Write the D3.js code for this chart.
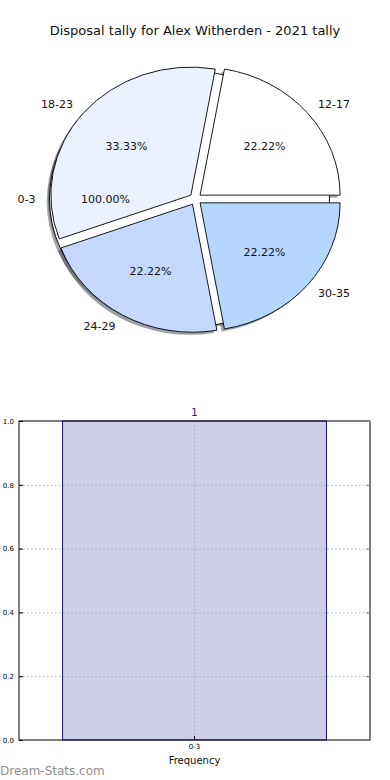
<!DOCTYPE html>
<html>
<head>
<meta charset="utf-8">
<script src="https://cdn.jsdelivr.net/npm/d3@7"></script>
<style>
  body { margin: 0; background: #fff; }
  svg { display: block; font-family: "DejaVu Sans", sans-serif; }
</style>
</head>
<body>
<div id="chart"></div>
<script>
// pie data
const ageGroups = ["12-17", "18-23", "24-29", "30-35"];
const groupCounts = [2, 3, 2, 2];
const groupColors = ["#ffffff", "#ebf1ff", "#c5d8ff", "#b4d6ff"];
// the 0-3 group was drawn as its own single-slice pie, underneath
const soloGroup = ["0-3"];
const soloCount = [1];
const soloColors = ["#ffffff"];

// bar data
const barCategories = ["0-3"];
const barValues = [1];
const yTicks = [0, 0.2, 0.4, 0.6, 0.8, 1.0];

const width = 390, height = 780;
const svg = d3.select("#chart").append("svg")
    .attr("width", width)
    .attr("height", height);

svg.append("text")
    .attr("x", 195).attr("y", 35)
    .attr("text-anchor", "middle")
    .attr("font-size", 13)
    .attr("fill", "#111")
    .text("Disposal tally for Alex Witherden - 2021 tally");

// ---- pie (matplotlib style: ccw from 3 o'clock, elliptical) ----
const cx = 195.5, cy = 199, rx = 140, ry = 128, explode = 6;
const toD3 = a => Math.PI / 2 - a;

const pie = d3.pie().sort(null).value(d => d)
    .startAngle(toD3(0)).endAngle(toD3(2 * Math.PI));
const arcs = pie(groupCounts);
const soloArcs = pie(soloCount);
const total = d3.sum(groupCounts);

// unit arc then stretched into the ellipse
const arc = d3.arc().innerRadius(0).outerRadius(1);
const mid = d => (d.startAngle + d.endAngle) / 2;
const ux = a => Math.sin(a), uy = a => -Math.cos(a);

const pieG = svg.append("g");

function wedgeTransform(d, dx, dy) {
    const m = mid(d);
    const ox = cx + explode * ux(m) + dx;
    const oy = cy + explode * uy(m) + dy;
    return `translate(${ox},${oy}) scale(${rx},${ry})`;
}
function shade(c) {
    const k = d3.rgb(c);
    return d3.rgb(k.r * 0.3, k.g * 0.3, k.b * 0.3).toString();
}

const allArcs = soloArcs.map((d, i) => ({ d, color: soloColors[i] }))
    .concat(arcs.map((d, i) => ({ d, color: groupColors[i] })));

// shadows sit below every wedge
pieG.selectAll(".shadow").data(allArcs).enter()
    .append("path")
    .attr("transform", o => wedgeTransform(o.d, -2.8, 2.6))
    .attr("d", o => arc(o.d))
    .attr("fill", o => shade(o.color))
    .attr("fill-opacity", 0.5);

pieG.selectAll(".wedge").data(allArcs).enter()
    .append("path")
    .attr("transform", o => wedgeTransform(o.d, 0, 0))
    .attr("d", o => arc(o.d))
    .attr("fill", o => o.color)
    .attr("stroke", "#000")
    .attr("stroke-width", 0.9)
    .attr("vector-effect", "non-scaling-stroke");

function addLabels(data, names, tot) {
    data.forEach((d, i) => {
        const m = mid(d);
        const ox = cx + explode * ux(m), oy = cy + explode * uy(m);
        const lx = ox + 1.1 * rx * ux(m), ly = oy + 1.1 * ry * uy(m);
        pieG.append("text")
            .attr("x", lx).attr("y", ly)
            .attr("dy", "0.35em")
            .attr("text-anchor", ux(m) > 0.001 ? "start" : (ux(m) < -0.001 ? "end" : "middle"))
            .attr("font-size", 11)
            .attr("fill", "#111")
            .text(names[i]);
        pieG.append("text")
            .attr("x", ox + 0.6 * rx * ux(m)).attr("y", oy + 0.6 * ry * uy(m))
            .attr("dy", "0.35em")
            .attr("text-anchor", "middle")
            .attr("font-size", 11)
            .attr("fill", "#111")
            .text((d.value / tot * 100).toFixed(2) + "%");
    });
}
addLabels(arcs, ageGroups, total);
addLabels(soloArcs, soloGroup, d3.sum(soloCount));

// ---- bar chart ----
const m = { left: 19, right: 370, top: 421, bottom: 740 };
const x = d3.scaleBand().domain(barCategories)
    .range([m.left, m.right]).paddingInner(0).paddingOuter(0.165);
const y = d3.scaleLinear().domain([0, 1]).range([m.bottom, m.top]);

const barG = svg.append("g");

barG.selectAll(".bar").data(barValues).enter()
    .append("rect")
    .attr("x", (d, i) => x(barCategories[i]))
    .attr("y", d => y(d))
    .attr("width", x.bandwidth())
    .attr("height", d => y(0) - y(d))
    .attr("fill", "#cdcde6")
    .attr("stroke", "#1a1a99")
    .attr("stroke-width", 1);

// grid
barG.selectAll(".hgrid").data(yTicks.slice(1, -1)).enter()
    .append("line")
    .attr("x1", m.left).attr("x2", m.right)
    .attr("y1", d => y(d) + 0.5).attr("y2", d => y(d) + 0.5)
    .attr("stroke", "#aaa").attr("stroke-dasharray", "1.5,2.5")
    .attr("stroke-width", 1);
barG.selectAll(".vgrid").data(barCategories).enter()
    .append("line")
    .attr("x1", d => x(d) + x.bandwidth() / 2).attr("x2", d => x(d) + x.bandwidth() / 2)
    .attr("y1", m.top).attr("y2", m.bottom)
    .attr("stroke", "#aaa").attr("stroke-dasharray", "1.5,2.5")
    .attr("stroke-width", 1);

// frame
barG.append("rect")
    .attr("x", m.left).attr("y", m.top)
    .attr("width", m.right - m.left).attr("height", m.bottom - m.top)
    .attr("fill", "none").attr("stroke", "#000").attr("stroke-width", 1);

// y axis (ticks inward on both sides)
const yAxis = d3.axisLeft(y).tickValues(yTicks).tickFormat(d3.format(".1f"))
    .tickSize(-4).tickPadding(5);
const yg = barG.append("g").attr("transform", `translate(${m.left},0)`).call(yAxis);
yg.select(".domain").remove();
yg.selectAll("text").attr("font-size", 7).attr("font-family", "DejaVu Sans").attr("fill", "#000");
yg.selectAll("line").attr("stroke", "#000");

const yRight = barG.append("g").attr("transform", `translate(${m.right},0)`)
    .call(d3.axisRight(y).tickValues(yTicks).tickSize(-4).tickFormat(""));
yRight.select(".domain").remove();
yRight.selectAll("line").attr("stroke", "#888");

// x axis
const xAxis = d3.axisBottom(x).tickSize(-4).tickPadding(4);
const xg = barG.append("g").attr("transform", `translate(0,${m.bottom})`).call(xAxis);
xg.select(".domain").remove();
xg.selectAll("text").attr("font-size", 7).attr("font-family", "DejaVu Sans").attr("fill", "#000");
xg.selectAll("line").attr("stroke", "#000");

barG.append("text")
    .attr("x", (m.left + m.right) / 2).attr("y", 764)
    .attr("text-anchor", "middle")
    .attr("font-size", 10)
    .attr("fill", "#111")
    .text("Frequency");

// value labels
barG.selectAll(".vlabel").data(barValues).enter()
    .append("text")
    .attr("x", (d, i) => x(barCategories[i]) + x.bandwidth() / 2)
    .attr("y", d => y(d) - 5)
    .attr("text-anchor", "middle")
    .attr("font-size", 10)
    .attr("fill", "#1a1aa0")
    .text(d => d);

svg.append("text")
    .attr("x", 0).attr("y", 775)
    .attr("font-size", 12)
    .attr("fill", "#909090")
    .text("Dream-Stats.com");
</script>
</body>
</html>
